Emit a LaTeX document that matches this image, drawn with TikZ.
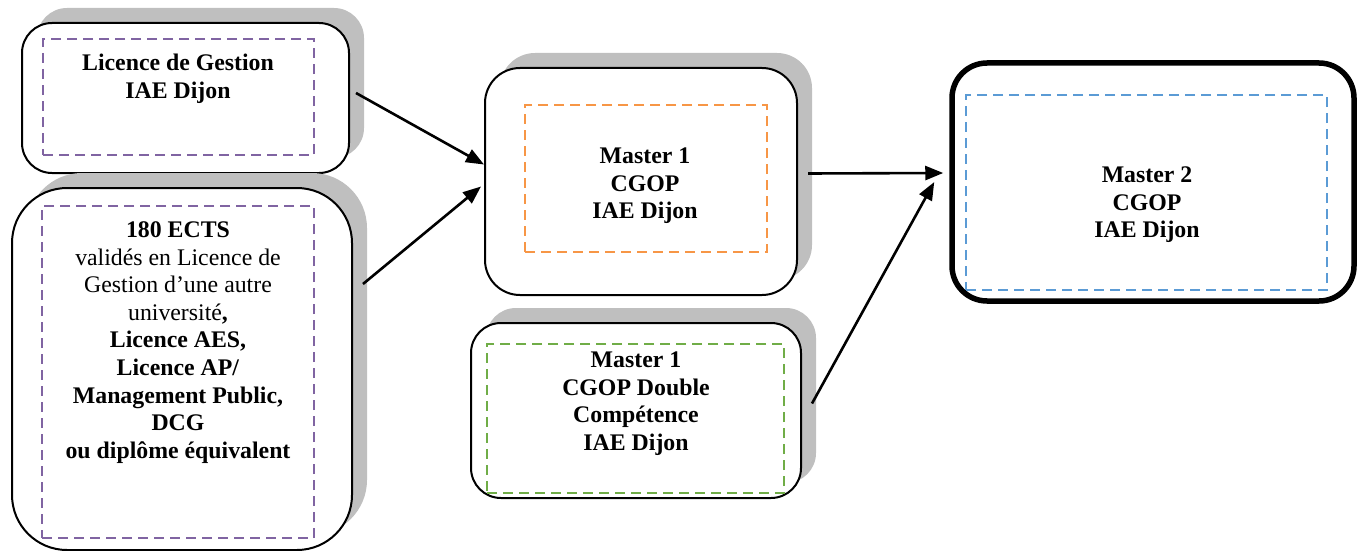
\documentclass[tikz,border=0pt]{standalone}
\usepackage{fontspec}
\setmainfont{Liberation Serif}
\usepackage{xcolor}
\usetikzlibrary{arrows.meta,shadows,positioning,calc}
\definecolor{licpurple}{HTML}{8064A2}
\definecolor{mcgorange}{HTML}{F79646}
\definecolor{mdcgreen}{HTML}{70AD47}
\definecolor{mtwoblue}{HTML}{5B9BD5}
\tikzstyle{outer} = [draw, line width=2pt, fill=white, inner sep=0pt,
    drop shadow={shadow xshift=15pt, shadow yshift=15pt, fill=gray!50, opacity=1}]
\tikzstyle{inner} = [draw, line width=2.6pt, dash pattern=on 10pt off 6pt, inner sep=0pt]
\tikzstyle{label} = [align=center, font=\fontsize{23.8}{27.6}\selectfont]
\tikzstyle{connector} = [-{Triangle[length=18pt,width=14pt]}, line width=2.6pt]

\begin{document}
\begin{tikzpicture}[x=1pt,y=-1pt]
		\useasboundingbox (0,0) rectangle (1362,551);
		\node[outer, rounded corners=30pt, minimum width=327pt, minimum height=150pt] (lic) at (185.5,98) {};
		\node[outer, rounded corners=55pt, minimum width=340pt, minimum height=362pt] (ects) at (182,369) {};
		\node[outer, rounded corners=35pt, minimum width=312pt, minimum height=227pt] (mcg) at (641,181.5) {};
		\node[outer, rounded corners=30pt, minimum width=330pt, minimum height=175pt] (mdc) at (636,410.5) {};
		\node[draw, line width=5.5pt, fill=white, rounded corners=35pt, inner sep=0pt,
			minimum width=402pt, minimum height=238pt] (m2) at (1153,182) {};
		
		\node[inner, licpurple, minimum width=271pt, minimum height=116pt] (licin) at (178.5,97) {};
		\node[inner, licpurple, minimum width=272pt, minimum height=332pt] (ectsin) at (178,372) {};
		\node[inner, mcgorange, minimum width=242pt, minimum height=147pt] (mcgin) at (646,178.5) {};
		\node[inner, mdcgreen, minimum width=297pt, minimum height=149pt] (mdcin) at (635.5,418.5) {};
		\node[inner, mtwoblue, minimum width=361pt, minimum height=195pt] (m2in) at (1146.5,192.5) {};
		
		\node[label] (lictext) at (178,79) {\textbf{Licence de Gestion}\\\textbf{IAE Dijon}};
		\node[label] (ectstext) at (178,342.5) {\textbf{180 ECTS}\\validés en Licence de\\Gestion d’une autre\\université\textbf{,}\\\textbf{Licence AES,}\\\textbf{Licence AP/}\\\textbf{Management Public,}\\\textbf{DCG}\\\textbf{ou diplôme équivalent}};
		\node[label] (mcgtext) at (645,186) {\textbf{Master 1}\\\textbf{CGOP}\\\textbf{IAE Dijon}};
		\node[label] (mdctext) at (636,403.5) {\textbf{Master 1}\\\textbf{CGOP Double}\\\textbf{Compétence}\\\textbf{IAE Dijon}};
		\node[label] (m2text) at (1147,205) {\textbf{Master 2}\\\textbf{CGOP}\\\textbf{IAE Dijon}};
		
		\draw[connector] ([xshift=6pt,yshift=5pt]lic.east) to ([yshift=17pt]mcg.west);
		\draw[connector] ([xshift=10pt,yshift=85pt]ects.east) to ([xshift=-3pt,yshift=-5pt]mcg.west);
		\draw[connector] ([xshift=10pt,yshift=8pt]mcg.east) to ([xshift=-6pt,yshift=9pt]m2.west);
		\draw[connector] ([xshift=10pt,yshift=7pt]mdc.east) to ([xshift=-15pt]m2.west);
	\end{tikzpicture}
\end{document}
